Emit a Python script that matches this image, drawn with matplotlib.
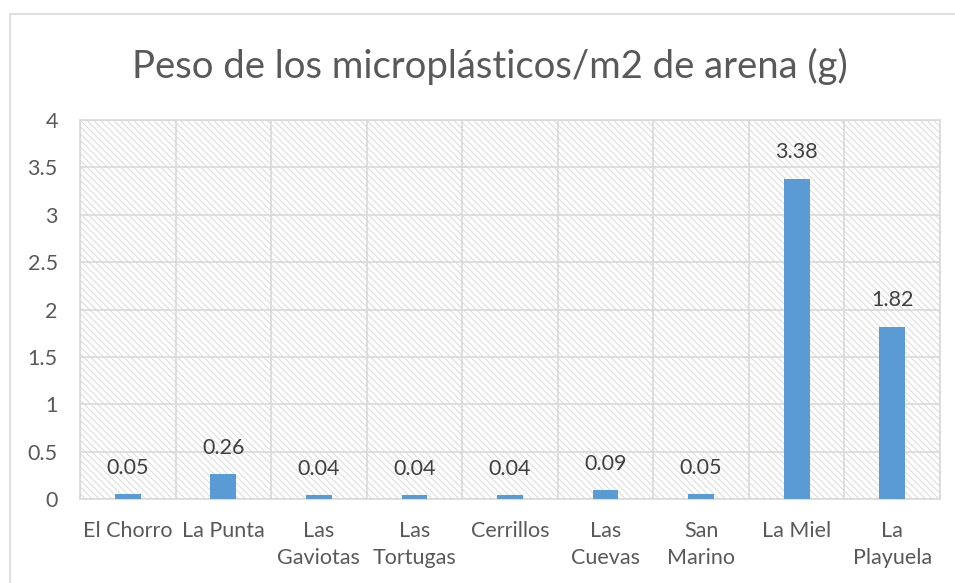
import matplotlib.pyplot as plt
from matplotlib.patches import Rectangle

plt.rcParams['font.family'] = ['Lato', 'DejaVu Sans']
plt.rcParams['hatch.color'] = '#d9d9d9'
plt.rcParams['hatch.linewidth'] = 0.7

categories = ['El Chorro', 'La Punta', 'Las\nGaviotas', 'Las\nTortugas', 'Cerrillos',
              'Las\nCuevas', 'San\nMarino', 'La Miel', 'La\nPlayuela']
values = [0.05, 0.26, 0.04, 0.04, 0.04, 0.09, 0.05, 3.38, 1.82]
yticks = [0, 0.5, 1, 1.5, 2, 2.5, 3, 3.5, 4]
title = 'Peso de los microplásticos/m2 de arena (g)'

grid_c = '#d9d9d9'
text_c = '#595959'

fig = plt.figure(figsize=(9.55, 5.83), dpi=100)
ax = fig.add_axes([80 / 955, 1 - 499 / 583, 860 / 955, 379 / 583])

# outer chart frame (cut off at right and bottom)
fig.add_artist(Rectangle((10 / 955, -0.1), 2.0, (583 - 14) / 583 + 0.1,
                         transform=fig.transFigure, fill=False,
                         edgecolor=grid_c, linewidth=1.2))

# hatched plot background
ax.add_patch(Rectangle((0, 0), 1, 1, transform=ax.transAxes, facecolor='white',
                       edgecolor=grid_c, hatch='\\\\\\\\\\', linewidth=0, zorder=0))

x = list(range(len(categories)))
ax.bar(x, values, width=0.27, color='#5b9bd5', zorder=3)

for xi, v in zip(x, values):
    ax.annotate(f'{v:.2f}', (xi, v), xytext=(0, 19), textcoords='offset points',
                ha='center', va='center', fontsize=15.5, color='#404040', zorder=4)

ax.set_xlim(-0.5, len(categories) - 0.5)
ax.set_ylim(0, 4)
ax.set_yticks(yticks)
ax.set_yticklabels([f'{t:g}' for t in yticks])
ax.set_xticks(x)
ax.set_xticklabels(categories, linespacing=1.4)

for t in yticks:
    ax.axhline(t, color=grid_c, linewidth=1.2, zorder=1)
for b in range(len(categories) + 1):
    ax.axvline(b - 0.5, color=grid_c, linewidth=1.2, zorder=1)

for s in ax.spines.values():
    s.set_color(grid_c)
    s.set_linewidth(1.2)

ax.tick_params(axis='both', length=0, labelsize=15.5, labelcolor=text_c)
ax.tick_params(axis='y', pad=16)
ax.tick_params(axis='x', pad=16)

fig.text(490 / 955, 1 - 66 / 583, title, ha='center', va='center',
         fontsize=27.5, color=text_c)

fig.savefig('out.png', dpi=100)
